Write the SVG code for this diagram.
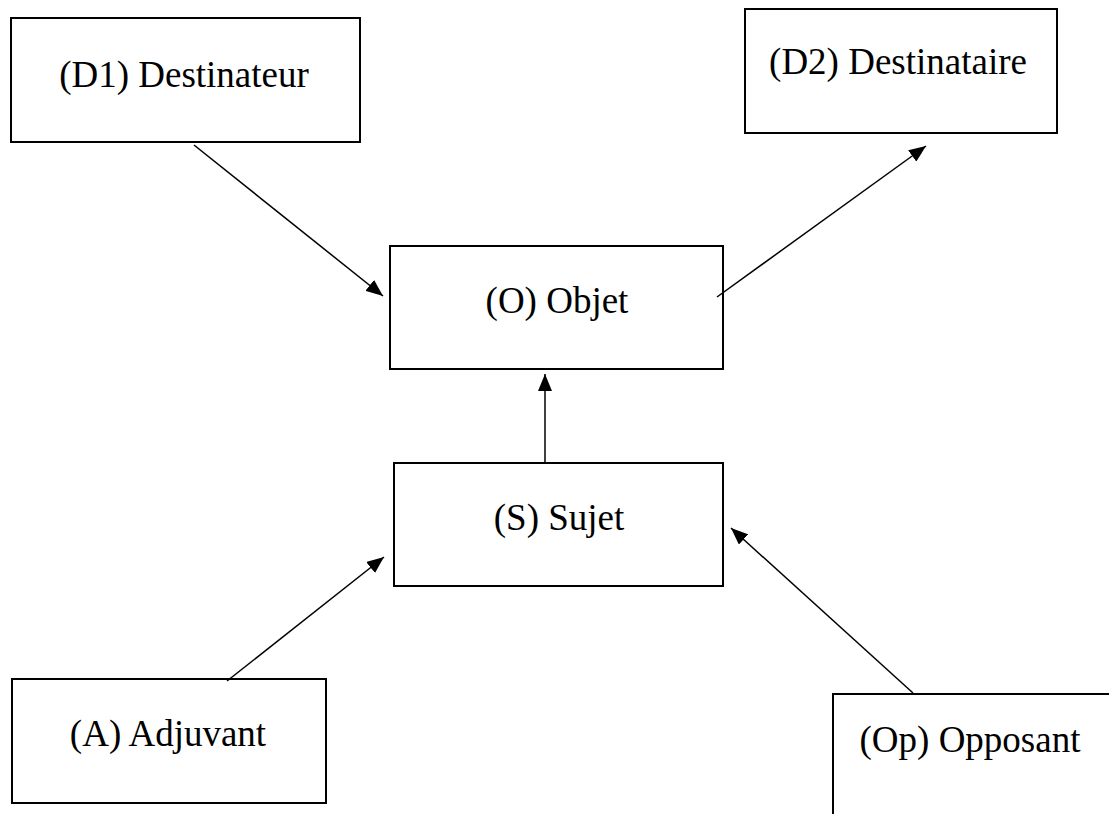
<svg xmlns="http://www.w3.org/2000/svg" width="1109" height="814" viewBox="0 0 1109 814">
<style>
.box{fill:#fff;stroke:#000;stroke-width:2}
.lbl{font-family:"Liberation Serif","Times New Roman",serif;font-size:37px;fill:#000;text-anchor:middle}
.edge{stroke:#000;stroke-width:1.5;fill:none;marker-end:url(#ah)}
</style>
<defs>
<marker id="ah" markerUnits="userSpaceOnUse" markerWidth="18" markerHeight="14" refX="17" refY="7" orient="auto">
<path d="M0,0 L17,7 L0,14 z" fill="#000"/>
</marker>
</defs>
<rect width="1109" height="814" fill="#fff"/>
<g id="D1"><rect class="box" x="11" y="18" width="349" height="124"/><text class="lbl" x="184" y="87">(D1) Destinateur</text></g>
<g id="D2"><rect class="box" x="745" y="9" width="312" height="124"/><text class="lbl" x="898" y="74">(D2) Destinataire</text></g>
<g id="O"><rect class="box" x="390" y="246" width="333" height="123"/><text class="lbl" x="557" y="313">(O) Objet</text></g>
<g id="S"><rect class="box" x="394" y="463" width="329" height="123"/><text class="lbl" x="559" y="530">(S) Sujet</text></g>
<g id="A"><rect class="box" x="12" y="679" width="314" height="124"/><text class="lbl" x="168" y="746">(A) Adjuvant</text></g>
<g id="Op"><rect class="box" x="833" y="694" width="300" height="140"/><text class="lbl" x="970" y="752">(Op) Opposant</text></g>
<g id="connectors">
<line class="edge" x1="194" y1="145" x2="383" y2="296"/>
<line class="edge" x1="717" y1="297" x2="926" y2="146"/>
<line class="edge" x1="545" y1="463" x2="545" y2="374"/>
<line class="edge" x1="227" y1="681" x2="384" y2="557"/>
<line class="edge" x1="913" y1="693" x2="731" y2="528"/>
</g>
</svg>
